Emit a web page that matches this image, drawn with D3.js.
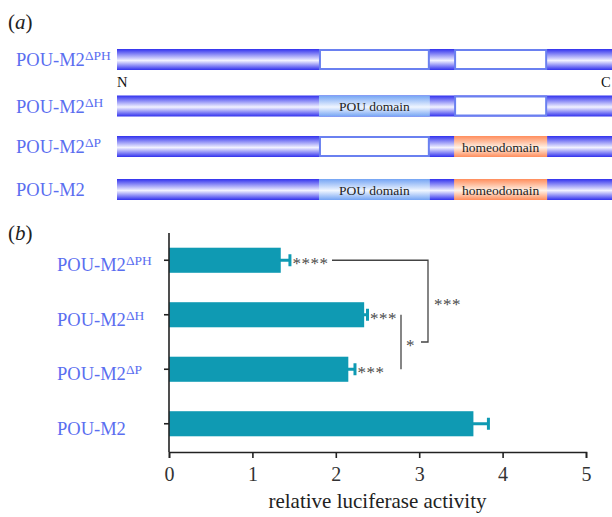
<!DOCTYPE html>
<html><head><meta charset="utf-8">
<script src="https://cdn.jsdelivr.net/npm/d3@7"></script>
<style>
html,body{margin:0;padding:0;background:#fff;}
svg{display:block;font-family:"Liberation Serif","Times New Roman",serif;}
</style></head>
<body><svg id="c" width="612" height="517"></svg>
<script>
// ---- data ----
const constructBase = ["POU-M2", "POU-M2", "POU-M2", "POU-M2"];
const constructSup = ["ΔPH", "ΔH", "ΔP", ""];
const hasPOU = [false, true, false, true];
const hasHomeo = [false, false, true, true];
// protein map coordinates (arbitrary units, 0 = N terminus)
const proteinLength = 100;
const pouDomain = [40.8, 63.2];
const homeoDomain = [68.1, 86.9];
// luciferase assay
const activity = [1.34, 2.34, 2.15, 3.65];
const activityErr = [0.11, 0.04, 0.08, 0.18];
const sigLabels = ["****", "***", "***", ""];
const xTicks = [0, 1, 2, 3, 4, 5];
const comparisons = [{a: 0, b: [1, 2], label: "***"}, {a: 1, b: 2, label: "*"}];

const svg = d3.select("#c");
const defs = svg.append("defs");
function vgrad(id, edge, mid) {
  const g = defs.append("linearGradient").attr("id", id).attr("x1", 0).attr("y1", 0).attr("x2", 0).attr("y2", 1);
  g.append("stop").attr("offset", "0%").attr("stop-color", edge);
  g.append("stop").attr("offset", "55%").attr("stop-color", mid);
  g.append("stop").attr("offset", "100%").attr("stop-color", edge);
}
vgrad("gBar", "#3131ee", "#f2f2ff");
vgrad("gPOU", "#74a4f4", "#f0f6ff");
vgrad("gHomeo", "#ff8d5c", "#fff2e6");

const labelColor = "#5a6ef0";
const starColor = "#4a4a4a";

// ---- panel (a) ----
svg.append("text").attr("x", 8).attr("y", 29).attr("font-size", 21).attr("fill", "#222")
  .html('(<tspan font-style="italic">a</tspan>)');

const xa = d3.scaleLinear().domain([0, proteinLength]).range([117, 612]);
const rowCenters = [59.5, 106, 146.5, 189.5];
const barH = 21;

const rowsA = svg.append("g").selectAll("g").data(d3.range(4)).join("g");
rowsA.each(function(i) {
  const g = d3.select(this);
  const cy = rowCenters[i];
  g.append("rect").attr("x", xa(0)).attr("y", cy - barH / 2).attr("width", xa(proteinLength) - xa(0)).attr("height", barH)
    .attr("fill", "url(#gBar)");
  if (hasPOU[i]) {
    g.append("rect").attr("x", xa(pouDomain[0])).attr("y", cy - barH / 2).attr("width", xa(pouDomain[1]) - xa(pouDomain[0])).attr("height", barH)
      .attr("fill", "url(#gPOU)");
    g.append("text").attr("x", (xa(pouDomain[0]) + xa(pouDomain[1])) / 2).attr("y", cy + 5).attr("text-anchor", "middle")
      .attr("font-size", 13.5).attr("fill", "#222").text("POU domain");
  } else {
    g.append("rect").attr("x", xa(pouDomain[0]) + 1).attr("y", cy - barH / 2 + 1).attr("width", xa(pouDomain[1]) - xa(pouDomain[0]) - 2).attr("height", barH - 2)
      .attr("fill", "#fff").attr("stroke", "#6a80f0").attr("stroke-width", 2);
  }
  if (hasHomeo[i]) {
    g.append("rect").attr("x", xa(homeoDomain[0])).attr("y", cy - barH / 2).attr("width", xa(homeoDomain[1]) - xa(homeoDomain[0])).attr("height", barH)
      .attr("fill", "url(#gHomeo)");
    g.append("text").attr("x", (xa(homeoDomain[0]) + xa(homeoDomain[1])) / 2).attr("y", cy + 5).attr("text-anchor", "middle")
      .attr("font-size", 13.5).attr("fill", "#222").text("homeodomain");
  } else {
    g.append("rect").attr("x", xa(homeoDomain[0]) + 1).attr("y", cy - barH / 2 + 1).attr("width", xa(homeoDomain[1]) - xa(homeoDomain[0]) - 2).attr("height", barH - 2)
      .attr("fill", "#fff").attr("stroke", "#6a80f0").attr("stroke-width", 2);
  }
  const t = g.append("text").attr("x", 16).attr("y", cy + 6.5).attr("font-size", 18.5).attr("fill", labelColor);
  t.append("tspan").text(constructBase[i]);
  if (constructSup[i]) t.append("tspan").attr("font-size", 13.5).attr("dy", -6).text(constructSup[i]);
});
svg.append("text").attr("x", 117).attr("y", 87).attr("font-size", 14.5).attr("fill", "#111").text("N");
svg.append("text").attr("x", 601).attr("y", 87).attr("font-size", 14.5).attr("fill", "#111").text("C");

// ---- panel (b) ----
svg.append("text").attr("x", 8).attr("y", 240).attr("font-size", 21).attr("fill", "#222")
  .html('(<tspan font-style="italic">b</tspan>)');

const x = d3.scaleLinear().domain([0, 5]).range([169, 586]);
const y = d3.scaleBand().domain(d3.range(4)).range([233, 451]).paddingInner(0.54).paddingOuter(0.27);
const teal = "#0f9ab3";
const axisColor = "#222";

const gb = svg.append("g");
gb.selectAll("rect.bar").data(activity).join("rect").attr("class", "bar")
  .attr("x", x(0)).attr("y", (d, i) => y(i)).attr("width", d => x(d) - x(0)).attr("height", y.bandwidth())
  .attr("fill", teal);
gb.selectAll("line.err").data(activity).join("line").attr("class", "err")
  .attr("x1", d => x(d) - 1).attr("x2", (d, i) => x(d + activityErr[i]))
  .attr("y1", (d, i) => y(i) + y.bandwidth() / 2).attr("y2", (d, i) => y(i) + y.bandwidth() / 2)
  .attr("stroke", teal).attr("stroke-width", 3);
gb.selectAll("line.cap").data(activity).join("line").attr("class", "cap")
  .attr("x1", (d, i) => x(d + activityErr[i])).attr("x2", (d, i) => x(d + activityErr[i]))
  .attr("y1", (d, i) => y(i) + y.bandwidth() / 2 - 6).attr("y2", (d, i) => y(i) + y.bandwidth() / 2 + 6)
  .attr("stroke", teal).attr("stroke-width", 3);
gb.selectAll("text.sig").data(sigLabels).join("text").attr("class", "sig")
  .attr("x", (d, i) => x(activity[i] + activityErr[i]) + 2.5)
  .attr("y", (d, i) => y(i) + y.bandwidth() / 2 + 9)
  .attr("font-size", 17).attr("letter-spacing", 0.5).attr("fill", starColor).text(d => d);

// axes
const xAxis = d3.axisBottom(x).tickValues(xTicks).tickSize(6).tickFormat(d3.format("d"));
const gx = svg.append("g").attr("transform", "translate(0,452)").call(xAxis);
gx.attr("font-family", null).attr("font-size", null);
gx.select(".domain").attr("stroke", axisColor).attr("stroke-width", 1.6);
gx.selectAll(".tick line").attr("stroke", axisColor).attr("stroke-width", 1.6);
gx.selectAll(".tick text").style("font-family", "'Liberation Serif', serif").style("font-size", "20px")
  .attr("fill", "#333").attr("dy", 0).attr("y", 29);

const gy = svg.append("g").attr("transform", "translate(169,0)")
  .call(d3.axisLeft(y).tickSize(5).tickFormat(""));
gy.select(".domain").attr("d", "M0,233V452").attr("stroke", axisColor).attr("stroke-width", 1.6);
gy.selectAll(".tick line").attr("stroke", axisColor).attr("stroke-width", 1.6);

const yl = svg.append("g").selectAll("text").data(d3.range(4)).join("text")
  .attr("x", 57).attr("y", i => y(i) + y.bandwidth() / 2 + 11).attr("font-size", 18.5).attr("fill", labelColor);
yl.append("tspan").text(i => constructBase[i]);
yl.filter(i => constructSup[i]).append("tspan").attr("font-size", 13.5).attr("dy", -6).text(i => constructSup[i]);

svg.append("text").attr("x", (x(0) + x(5)) / 2).attr("y", 508).attr("text-anchor", "middle")
  .attr("font-size", 21).attr("fill", "#222").text("relative luciferase activity");

// comparison brackets
const cy = i => y(i) + y.bandwidth() / 2;
const lineColor = "#444";
const c2 = comparisons[1];
const bx2 = 401;
svg.append("line").attr("x1", bx2).attr("x2", bx2).attr("y1", cy(c2.a)).attr("y2", cy(c2.b))
  .attr("stroke", lineColor).attr("stroke-width", 1.3);
const midY = (cy(c2.a) + cy(c2.b)) / 2;
svg.append("text").attr("x", 406).attr("y", midY + 9).attr("font-size", 17).attr("fill", starColor).text(c2.label);
const c1 = comparisons[0];
const bx1 = 428;
svg.append("path").attr("d", `M332,${cy(c1.a)}H${bx1}V${midY}H421`)
  .attr("fill", "none").attr("stroke", lineColor).attr("stroke-width", 1.3);
svg.append("text").attr("x", 434).attr("y", (cy(c1.a) + midY) / 2 + 9).attr("font-size", 17).attr("letter-spacing", 0.5)
  .attr("fill", starColor).text(c1.label);
</script></body></html>
